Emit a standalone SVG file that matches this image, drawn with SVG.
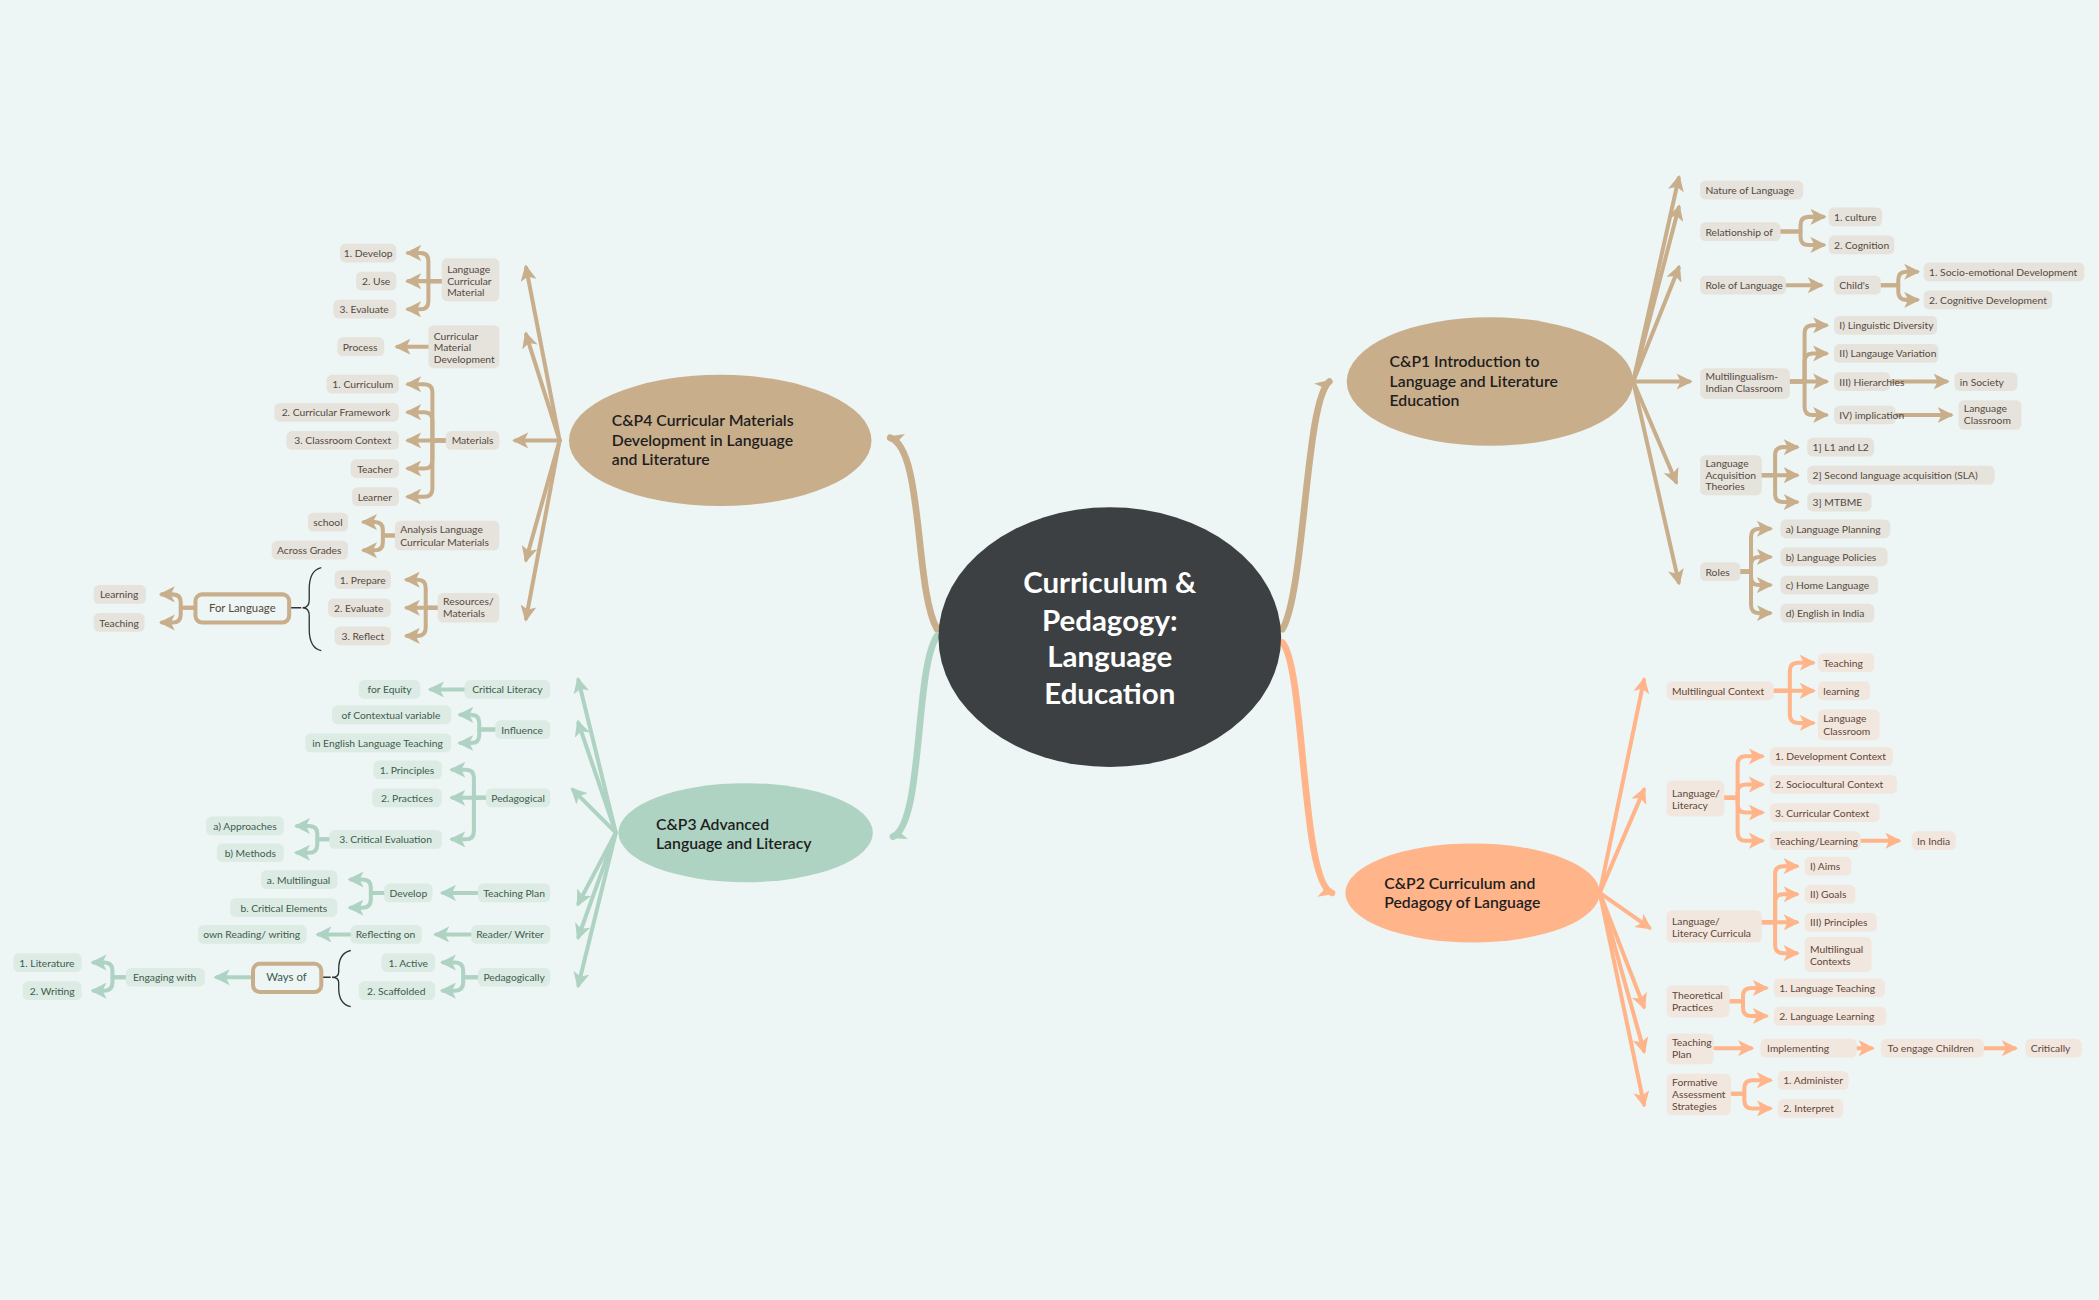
<svg xmlns="http://www.w3.org/2000/svg" width="2099" height="1300" viewBox="0 0 2099 1300">
<style>
.t{font-family:Lato,"Open Sans",sans-serif;font-size:7.7px;fill:#55493f}
.tg{font-family:Lato,"Open Sans",sans-serif;font-size:7.7px;fill:#3f5b4e}
.tp{font-family:Lato,"Open Sans",sans-serif;font-size:7.7px;fill:#5e4638}
.n{font-family:Lato,"Open Sans",sans-serif;font-size:11.8px;font-weight:600;fill:#1e1e1e}
.bt{fill:#e5e3dc}.bp{fill:#f2e7df}.bg{fill:#dcebe4}
.ct,.cp,.cg{fill:none;stroke-width:3;stroke-linecap:round;stroke-linejoin:round}
.ct{stroke:#c9ae8c}.cp{stroke:#ffb48a}.cg{stroke:#aed3c2}
.ct{marker-end:url(#mt)}.cp{marker-end:url(#mp)}.cg{marker-end:url(#mg)}
.br{fill:none;stroke:#333;stroke-width:1}
</style>
<defs>
<marker id="mt" viewBox="0 0 10 10" refX="8" refY="5" markerWidth="12" markerHeight="12" markerUnits="userSpaceOnUse" orient="auto"><path d="M0,0 L10,5 L0,10 L2.5,5 z" fill="#c9ae8c"/></marker>
<marker id="mp" viewBox="0 0 10 10" refX="8" refY="5" markerWidth="12" markerHeight="12" markerUnits="userSpaceOnUse" orient="auto"><path d="M0,0 L10,5 L0,10 L2.5,5 z" fill="#ffb48a"/></marker>
<marker id="mg" viewBox="0 0 10 10" refX="8" refY="5" markerWidth="12" markerHeight="12" markerUnits="userSpaceOnUse" orient="auto"><path d="M0,0 L10,5 L0,10 L2.5,5 z" fill="#aed3c2"/></marker>
</defs>
<rect width="2099" height="1300" fill="#edf5f5"/>
<g transform="scale(1.3387)">
<g id="connectors">
<path class="ct" style="stroke-width:5" d="M958,470 C975,440 975,300 993,285"/>
<path class="cp" style="stroke-width:5" d="M958,480 C975,500 972,660 995,667"/>
<path class="ct" style="stroke-width:5" d="M700,470 C683,440 690,335 665,327"/>
<path class="cg" style="stroke-width:5" d="M700,475 C683,500 690,615 667,625"/>
<path class="ct" d="M1220,285 L1254,133"/><path class="ct" d="M1220,285 L1254,155"/><path class="ct" d="M1220,285 L1254,200"/><path class="ct" d="M1220,285 L1262,285"/><path class="ct" d="M1220,285 L1252,360"/><path class="ct" d="M1220,285 L1254,435"/>
<path class="ct" d="M1330,173 H1345 V168 Q1345,162 1351,162 H1362"/><path class="ct" d="M1330,173 H1345 V177 Q1345,183 1351,183 H1362"/>
<path class="ct" d="M1334,213 H1360"/>
<path class="ct" d="M1405,213 H1418 V209 Q1418,203 1424,203 H1432"/><path class="ct" d="M1405,213 H1418 V218 Q1418,224 1424,224 H1432"/>
<path class="ct" d="M1337,285 H1348 V249 Q1348,243 1354,243 H1364"/><path class="ct" d="M1337,285 H1348 V270 Q1348,264 1354,264 H1364"/><path class="ct" d="M1337,285 H1364"/><path class="ct" d="M1337,285 H1348 V304 Q1348,310 1354,310 H1364"/>
<path class="ct" d="M1412,285 H1454"/><path class="ct" d="M1416,310 H1457"/>
<path class="ct" d="M1316,355 H1326 V340 Q1326,334 1332,334 H1342"/><path class="ct" d="M1316,355 H1342"/><path class="ct" d="M1316,355 H1326 V369 Q1326,375 1332,375 H1342"/>
<path class="ct" d="M1300,427 H1308 V401 Q1308,395 1314,395 H1322"/><path class="ct" d="M1300,427 H1308 V422 Q1308,416 1314,416 H1322"/><path class="ct" d="M1300,427 H1308 V431 Q1308,437 1314,437 H1322"/><path class="ct" d="M1300,427 H1308 V452 Q1308,458 1314,458 H1322"/>
<path class="cp" d="M1195,667 L1228,508"/><path class="cp" d="M1195,667 L1228,590"/><path class="cp" d="M1195,667 L1232,693"/><path class="cp" d="M1195,667 L1228,752"/><path class="cp" d="M1195,667 L1228,785"/><path class="cp" d="M1195,667 L1228,825"/>
<path class="cp" d="M1325,516 H1337 V501 Q1337,495 1343,495 H1354"/><path class="cp" d="M1325,516 H1354"/><path class="cp" d="M1325,516 H1337 V534 Q1337,540 1343,540 H1354"/>
<path class="cp" d="M1288,596 H1298 V571 Q1298,565 1304,565 H1316"/><path class="cp" d="M1288,596 H1298 V592 Q1298,586 1304,586 H1316"/><path class="cp" d="M1288,596 H1298 V601 Q1298,607 1304,607 H1316"/><path class="cp" d="M1288,596 H1298 V622 Q1298,628 1304,628 H1316"/>
<path class="cp" d="M1390,628 H1418"/>
<path class="cp" d="M1316,689 H1326 V653 Q1326,647 1332,647 H1342"/><path class="cp" d="M1316,689 H1326 V674 Q1326,668 1332,668 H1342"/><path class="cp" d="M1316,689 H1342"/><path class="cp" d="M1316,689 H1326 V706 Q1326,712 1332,712 H1342"/>
<path class="cp" d="M1292,748 H1302 V744 Q1302,738 1308,738 H1319"/><path class="cp" d="M1292,748 H1302 V753 Q1302,759 1308,759 H1319"/>
<path class="cp" d="M1281,783 H1308"/><path class="cp" d="M1387,783 H1398"/><path class="cp" d="M1482,783 H1505"/>
<path class="cp" d="M1293,817 H1303 V813 Q1303,807 1309,807 H1322"/><path class="cp" d="M1293,817 H1303 V822 Q1303,828 1309,828 H1322"/>
<path class="ct" d="M418,329 L393,200"/><path class="ct" d="M418,329 L393,250"/><path class="ct" d="M418,329 L385,329"/><path class="ct" d="M418,329 L393,418"/><path class="ct" d="M418,329 L393,462"/>
<path class="ct" d="M330,210 H320 V195 Q320,189 314,189 H305"/><path class="ct" d="M330,210 H305"/><path class="ct" d="M330,210 H320 V225 Q320,231 314,231 H305"/>
<path class="ct" d="M320,259 H297"/>
<path class="ct" d="M333,329 H323 V293 Q323,287 317,287 H305"/><path class="ct" d="M333,329 H323 V314 Q323,308 317,308 H305"/><path class="ct" d="M333,329 H305"/><path class="ct" d="M333,329 H323 V344 Q323,350 317,350 H305"/><path class="ct" d="M333,329 H323 V365 Q323,371 317,371 H305"/>
<path class="ct" d="M295,400 H286 V396 Q286,390 280,390 H272"/><path class="ct" d="M295,400 H286 V405 Q286,411 280,411 H272"/>
<path class="ct" d="M327,454 H318 V439 Q318,433 312,433 H304"/><path class="ct" d="M327,454 H304"/><path class="ct" d="M327,454 H318 V469 Q318,475 312,475 H304"/>
<path class="ct" d="M145,454 H135 V450 Q135,444 129,444 H121"/><path class="ct" d="M145,454 H135 V459 Q135,465 129,465 H121"/>
<path class="br" d="M240,424 Q231,426 231,440 V448 Q231,454 226,454 Q231,454 231,460 V470 Q231,484 240,486 M217,454 H225"/>
<path class="cg" d="M460,622 L432,508"/><path class="cg" d="M460,622 L432,540"/><path class="cg" d="M460,622 L428,590"/><path class="cg" d="M460,622 L432,675"/><path class="cg" d="M460,622 L432,700"/><path class="cg" d="M460,622 L432,736"/>
<path class="cg" d="M347,515 H322"/>
<path class="cg" d="M370,545 H358 V540 Q358,534 352,534 H344"/><path class="cg" d="M370,545 H358 V549 Q358,555 352,555 H344"/>
<path class="cg" d="M363,596 H354 V581 Q354,575 348,575 H338"/><path class="cg" d="M363,596 H338"/><path class="cg" d="M363,596 H354 V621 Q354,627 348,627 H338"/>
<path class="cg" d="M246,627 H237 V623 Q237,617 231,617 H222"/><path class="cg" d="M246,627 H237 V631 Q237,637 231,637 H222"/>
<path class="cg" d="M357,667 H331"/>
<path class="cg" d="M287,667 H277 V663 Q277,657 271,657 H262"/><path class="cg" d="M287,667 H277 V672 Q277,678 271,678 H262"/>
<path class="cg" d="M352,698 H326"/><path class="cg" d="M262,698 H238"/>
<path class="cg" d="M357,730 H346 V725 Q346,719 340,719 H331"/><path class="cg" d="M357,730 H346 V734 Q346,740 340,740 H331"/>
<path class="cg" d="M188,730 H162"/>
<path class="cg" d="M94,730 H84 V725 Q84,719 78,719 H70"/><path class="cg" d="M94,730 H84 V734 Q84,740 78,740 H70"/>
<path class="br" d="M262,710 Q253,712 253,724 V726 Q253,730 248,730 Q253,730 253,734 V738 Q253,750 262,752 M241,730 H247"/>
</g>
<g id="central"><ellipse cx="829" cy="476" rx="128" ry="97" fill="#3c4043"/>
<text x="829" y="443" text-anchor="middle" style="font-family:Lato,sans-serif;font-size:22px;font-weight:700;fill:#fff">Curriculum &amp;</text>
<text x="829" y="471" text-anchor="middle" style="font-family:Lato,sans-serif;font-size:22px;font-weight:700;fill:#fff">Pedagogy:</text>
<text x="829" y="498" text-anchor="middle" style="font-family:Lato,sans-serif;font-size:22px;font-weight:700;fill:#fff">Language</text>
<text x="829" y="526" text-anchor="middle" style="font-family:Lato,sans-serif;font-size:22px;font-weight:700;fill:#fff">Education</text></g>
<g id="cp1"><ellipse cx="1113" cy="285" rx="107" ry="48" fill="#c9ae8c"/>
<text class="n" x="1038" y="274">C&amp;P1 Introduction to</text><text class="n" x="1038" y="289">Language and Literature</text><text class="n" x="1038" y="303">Education</text></g>
<g id="cp2"><ellipse cx="1100" cy="667" rx="95" ry="37" fill="#ffb48a"/>
<text class="n" x="1034" y="664">C&amp;P2 Curriculum and</text><text class="n" x="1034" y="678">Pedagogy of Language</text></g>
<g id="cp4"><ellipse cx="538" cy="329" rx="113" ry="49" fill="#c9ae8c"/>
<text class="n" x="457" y="318">C&amp;P4 Curricular Materials</text><text class="n" x="457" y="333">Development in Language</text><text class="n" x="457" y="347">and Literature</text></g>
<g id="cp3"><ellipse cx="557" cy="622" rx="95" ry="37" fill="#aed3c2"/>
<text class="n" x="490" y="620">C&amp;P3  Advanced</text><text class="n" x="490" y="634">Language and Literacy</text></g>
<g id="n1a"><rect class="bt" x="1270" y="135" width="77" height="14" rx="4"/><text class="t" x="1274" y="145">Nature of Language</text></g>
<g id="n1b"><rect class="bt" x="1270" y="166" width="60" height="14" rx="4"/><text class="t" x="1274" y="176">Relationship of</text></g>
<g id="n1c"><rect class="bt" x="1366" y="155" width="40" height="14" rx="4"/><text class="t" x="1370" y="165">1. culture</text></g>
<g id="n1d"><rect class="bt" x="1366" y="176" width="49" height="14" rx="4"/><text class="t" x="1370" y="186">2. Cognition</text></g>
<g id="n1e"><rect class="bt" x="1270" y="206" width="64" height="14" rx="4"/><text class="t" x="1274" y="216">Role of Language</text></g>
<g id="n1f"><rect class="bt" x="1370" y="206" width="35" height="14" rx="4"/><text class="t" x="1374" y="216">Child's</text></g>
<g id="n1g"><rect class="bt" x="1437" y="196" width="120" height="14" rx="4"/><text class="t" x="1441" y="206">1. Socio-emotional Development</text></g>
<g id="n1h"><rect class="bt" x="1437" y="217" width="96" height="14" rx="4"/><text class="t" x="1441" y="227">2. Cognitive Development</text></g>
<g id="n1i"><rect class="bt" x="1270" y="275" width="67" height="23" rx="4"/><text class="t" x="1274" y="284">Multilingualism-</text><text class="t" x="1274" y="293">Indian Classroom</text></g>
<g id="n1j"><rect class="bt" x="1370" y="236" width="77" height="14" rx="4"/><text class="t" x="1374" y="246">I) Linguistic Diversity</text></g>
<g id="n1k"><rect class="bt" x="1370" y="257" width="78" height="14" rx="4"/><text class="t" x="1374" y="267">II) Langauge Variation</text></g>
<g id="n1l"><rect class="bt" x="1370" y="278" width="42" height="14" rx="4"/><text class="t" x="1374" y="288">III) Hierarchies</text></g>
<g id="n1m"><rect class="bt" x="1460" y="278" width="47" height="14" rx="4"/><text class="t" x="1464" y="288">in Society</text></g>
<g id="n1n"><rect class="bt" x="1370" y="303" width="46" height="14" rx="4"/><text class="t" x="1374" y="313">IV) implication</text></g>
<g id="n1o"><rect class="bt" x="1463" y="299" width="47" height="22" rx="4"/><text class="t" x="1467" y="308">Language</text><text class="t" x="1467" y="317">Classroom</text></g>
<g id="n1p"><rect class="bt" x="1270" y="340" width="46" height="30" rx="4"/><text class="t" x="1274" y="349">Language</text><text class="t" x="1274" y="358">Acquisition</text><text class="t" x="1274" y="366">Theories</text></g>
<g id="n1q"><rect class="bt" x="1350" y="327" width="50" height="14" rx="4"/><text class="t" x="1354" y="337">1] L1 and L2</text></g>
<g id="n1r"><rect class="bt" x="1350" y="348" width="140" height="14" rx="4"/><text class="t" x="1354" y="358">2] Second language acquisition (SLA)</text></g>
<g id="n1s"><rect class="bt" x="1350" y="368" width="48" height="14" rx="4"/><text class="t" x="1354" y="378">3] MTBME</text></g>
<g id="n1t"><rect class="bt" x="1270" y="420" width="30" height="14" rx="4"/><text class="t" x="1274" y="430">Roles</text></g>
<g id="n1u"><rect class="bt" x="1330" y="388" width="82" height="14" rx="4"/><text class="t" x="1334" y="398">a) Language Planning</text></g>
<g id="n1v"><rect class="bt" x="1330" y="409" width="80" height="14" rx="4"/><text class="t" x="1334" y="419">b) Language Policies</text></g>
<g id="n1w"><rect class="bt" x="1330" y="430" width="73" height="14" rx="4"/><text class="t" x="1334" y="440">c) Home Language</text></g>
<g id="n1x"><rect class="bt" x="1330" y="451" width="70" height="14" rx="4"/><text class="t" x="1334" y="461">d) English in India</text></g>
<g id="n2a"><rect class="bp" x="1245" y="509" width="80" height="14" rx="4"/><text class="tp" x="1249" y="519">Multilingual Context</text></g>
<g id="n2b"><rect class="bp" x="1358" y="488" width="42" height="14" rx="4"/><text class="tp" x="1362" y="498">Teaching</text></g>
<g id="n2c"><rect class="bp" x="1358" y="509" width="39" height="14" rx="4"/><text class="tp" x="1362" y="519">learning</text></g>
<g id="n2d"><rect class="bp" x="1358" y="530" width="46" height="23" rx="4"/><text class="tp" x="1362" y="539">Language</text><text class="tp" x="1362" y="549">Classroom</text></g>
<g id="n2e"><rect class="bp" x="1245" y="583" width="43" height="27" rx="4"/><text class="tp" x="1249" y="595">Language/</text><text class="tp" x="1249" y="604">Literacy</text></g>
<g id="n2f"><rect class="bp" x="1322" y="558" width="92" height="14" rx="4"/><text class="tp" x="1326" y="568">1. Development Context</text></g>
<g id="n2g"><rect class="bp" x="1322" y="579" width="95" height="14" rx="4"/><text class="tp" x="1326" y="589">2. Sociocultural Context</text></g>
<g id="n2h"><rect class="bp" x="1322" y="600" width="82" height="14" rx="4"/><text class="tp" x="1326" y="610">3. Curricular Context</text></g>
<g id="n2i"><rect class="bp" x="1322" y="621" width="68" height="14" rx="4"/><text class="tp" x="1326" y="631">Teaching/Learning</text></g>
<g id="n2j"><rect class="bp" x="1428" y="621" width="33" height="14" rx="4"/><text class="tp" x="1432" y="631">In India</text></g>
<g id="n2k"><rect class="bp" x="1245" y="680" width="71" height="24" rx="4"/><text class="tp" x="1249" y="691">Language/</text><text class="tp" x="1249" y="700">Literacy Curricula</text></g>
<g id="n2l"><rect class="bp" x="1348" y="640" width="35" height="14" rx="4"/><text class="tp" x="1352" y="650">I) Aims</text></g>
<g id="n2m"><rect class="bp" x="1348" y="661" width="38" height="14" rx="4"/><text class="tp" x="1352" y="671">II) Goals</text></g>
<g id="n2n"><rect class="bp" x="1348" y="682" width="54" height="14" rx="4"/><text class="tp" x="1352" y="692">III) Principles</text></g>
<g id="n2o"><rect class="bp" x="1348" y="700" width="50" height="26" rx="4"/><text class="tp" x="1352" y="712">Multilingual</text><text class="tp" x="1352" y="721">Contexts</text></g>
<g id="n2p"><rect class="bp" x="1245" y="736" width="47" height="24" rx="4"/><text class="tp" x="1249" y="746">Theoretical</text><text class="tp" x="1249" y="755">Practices</text></g>
<g id="n2q"><rect class="bp" x="1325" y="731" width="83" height="14" rx="4"/><text class="tp" x="1329" y="741">1. Language Teaching</text></g>
<g id="n2r"><rect class="bp" x="1325" y="752" width="84" height="14" rx="4"/><text class="tp" x="1329" y="762">2. Language Learning</text></g>
<g id="n2s"><rect class="bp" x="1245" y="772" width="35" height="23" rx="4"/><text class="tp" x="1249" y="781">Teaching</text><text class="tp" x="1249" y="790">Plan</text></g>
<g id="n2t"><rect class="bp" x="1315" y="776" width="72" height="14" rx="4"/><text class="tp" x="1320" y="786">Implementing</text></g>
<g id="n2u"><rect class="bp" x="1405" y="776" width="77" height="14" rx="4"/><text class="tp" x="1410" y="786">To engage Children</text></g>
<g id="n2v"><rect class="bp" x="1513" y="776" width="42" height="14" rx="4"/><text class="tp" x="1517" y="786">Critically</text></g>
<g id="n2w"><rect class="bp" x="1245" y="802" width="48" height="31" rx="4"/><text class="tp" x="1249" y="811">Formative</text><text class="tp" x="1249" y="820">Assessment</text><text class="tp" x="1249" y="829">Strategies</text></g>
<g id="n2x"><rect class="bp" x="1328" y="800" width="53" height="14" rx="4"/><text class="tp" x="1332" y="810">1. Administer</text></g>
<g id="n2y"><rect class="bp" x="1328" y="821" width="49" height="14" rx="4"/><text class="tp" x="1332" y="831">2. Interpret</text></g>
<g id="n4a"><rect class="bt" x="330" y="193" width="43" height="32" rx="4"/><text class="t" x="334" y="204">Language</text><text class="t" x="334" y="213">Curricular</text><text class="t" x="334" y="221">Material</text></g>
<g id="n4b"><rect class="bt" x="254" y="182" width="42" height="14" rx="4"/><text class="t" x="275" y="192" text-anchor="middle">1. Develop</text></g>
<g id="n4c"><rect class="bt" x="266" y="203" width="30" height="14" rx="4"/><text class="t" x="281" y="213" text-anchor="middle">2. Use</text></g>
<g id="n4d"><rect class="bt" x="249" y="224" width="47" height="14" rx="4"/><text class="t" x="272" y="234" text-anchor="middle">3. Evaluate</text></g>
<g id="n4e"><rect class="bt" x="320" y="243" width="53" height="32" rx="4"/><text class="t" x="324" y="254">Curricular</text><text class="t" x="324" y="262">Material</text><text class="t" x="324" y="271">Development</text></g>
<g id="n4f"><rect class="bt" x="252" y="252" width="35" height="14" rx="4"/><text class="t" x="269" y="262" text-anchor="middle">Process</text></g>
<g id="n4g"><rect class="bt" x="333" y="322" width="40" height="14" rx="4"/><text class="t" x="353" y="332" text-anchor="middle">Materials</text></g>
<g id="n4h"><rect class="bt" x="244" y="280" width="54" height="14" rx="4"/><text class="t" x="271" y="290" text-anchor="middle">1. Curriculum</text></g>
<g id="n4i"><rect class="bt" x="205" y="301" width="93" height="14" rx="4"/><text class="t" x="251" y="311" text-anchor="middle">2. Curricular Framework</text></g>
<g id="n4j"><rect class="bt" x="214" y="322" width="84" height="14" rx="4"/><text class="t" x="256" y="332" text-anchor="middle">3. Classroom Context</text></g>
<g id="n4k"><rect class="bt" x="262" y="343" width="36" height="14" rx="4"/><text class="t" x="280" y="353" text-anchor="middle">Teacher</text></g>
<g id="n4l"><rect class="bt" x="263" y="364" width="35" height="14" rx="4"/><text class="t" x="280" y="374" text-anchor="middle">Learner</text></g>
<g id="n4m"><rect class="bt" x="295" y="389" width="78" height="22" rx="4"/><text class="t" x="299" y="398">Analysis Language</text><text class="t" x="299" y="408">Curricular Materials</text></g>
<g id="n4n"><rect class="bt" x="230" y="383" width="30" height="14" rx="4"/><text class="t" x="245" y="393" text-anchor="middle">school</text></g>
<g id="n4o"><rect class="bt" x="203" y="404" width="57" height="14" rx="4"/><text class="t" x="231" y="414" text-anchor="middle">Across Grades</text></g>
<g id="n4p"><rect class="bt" x="327" y="443" width="46" height="22" rx="4"/><text class="t" x="331" y="452">Resources/</text><text class="t" x="331" y="461">Materials</text></g>
<g id="n4q"><rect class="bt" x="250" y="426" width="42" height="14" rx="4"/><text class="t" x="271" y="436" text-anchor="middle">1. Prepare</text></g>
<g id="n4r"><rect class="bt" x="245" y="447" width="47" height="14" rx="4"/><text class="t" x="268" y="457" text-anchor="middle">2. Evaluate</text></g>
<g id="n4s"><rect class="bt" x="250" y="468" width="42" height="14" rx="4"/><text class="t" x="271" y="478" text-anchor="middle">3. Reflect</text></g>
<g id="n4t"><rect x="146" y="444" width="70" height="21" rx="5" fill="#edf5f5" stroke="#c9ae8c" stroke-width="3"/><text class="t" x="181" y="457" text-anchor="middle" style="font-size:8.5px">For Language</text></g>
<g id="n4u"><rect class="bt" x="70" y="437" width="39" height="14" rx="4"/><text class="t" x="89" y="447" text-anchor="middle">Learning</text></g>
<g id="n4v"><rect class="bt" x="70" y="458" width="38" height="14" rx="4"/><text class="t" x="89" y="468" text-anchor="middle">Teaching</text></g>
<g id="n3a"><rect class="bg" x="347" y="508" width="64" height="14" rx="4"/><text class="tg" x="379" y="518" text-anchor="middle">Critical Literacy</text></g>
<g id="n3b"><rect class="bg" x="268" y="508" width="46" height="14" rx="4"/><text class="tg" x="291" y="518" text-anchor="middle">for Equity</text></g>
<g id="n3c"><rect class="bg" x="370" y="538" width="41" height="14" rx="4"/><text class="tg" x="390" y="548" text-anchor="middle">Influence</text></g>
<g id="n3d"><rect class="bg" x="248" y="527" width="89" height="14" rx="4"/><text class="tg" x="292" y="537" text-anchor="middle">of Contextual variable</text></g>
<g id="n3e"><rect class="bg" x="228" y="548" width="109" height="14" rx="4"/><text class="tg" x="282" y="558" text-anchor="middle">in English Language Teaching</text></g>
<g id="n3f"><rect class="bg" x="363" y="589" width="48" height="14" rx="4"/><text class="tg" x="387" y="599" text-anchor="middle">Pedagogical</text></g>
<g id="n3g"><rect class="bg" x="279" y="568" width="51" height="14" rx="4"/><text class="tg" x="304" y="578" text-anchor="middle">1. Principles</text></g>
<g id="n3h"><rect class="bg" x="278" y="589" width="52" height="14" rx="4"/><text class="tg" x="304" y="599" text-anchor="middle">2. Practices</text></g>
<g id="n3i"><rect class="bg" x="246" y="620" width="84" height="14" rx="4"/><text class="tg" x="288" y="630" text-anchor="middle">3. Critical Evaluation</text></g>
<g id="n3j"><rect class="bg" x="154" y="610" width="58" height="14" rx="4"/><text class="tg" x="183" y="620" text-anchor="middle">a) Approaches</text></g>
<g id="n3k"><rect class="bg" x="162" y="630" width="50" height="14" rx="4"/><text class="tg" x="187" y="640" text-anchor="middle">b) Methods</text></g>
<g id="n3l"><rect class="bg" x="357" y="660" width="54" height="14" rx="4"/><text class="tg" x="384" y="670" text-anchor="middle">Teaching Plan</text></g>
<g id="n3m"><rect class="bg" x="287" y="660" width="36" height="14" rx="4"/><text class="tg" x="305" y="670" text-anchor="middle">Develop</text></g>
<g id="n3n"><rect class="bg" x="195" y="650" width="57" height="14" rx="4"/><text class="tg" x="223" y="660" text-anchor="middle">a. Multilingual</text></g>
<g id="n3o"><rect class="bg" x="172" y="671" width="80" height="14" rx="4"/><text class="tg" x="212" y="681" text-anchor="middle">b. Critical Elements</text></g>
<g id="n3p"><rect class="bg" x="352" y="691" width="59" height="14" rx="4"/><text class="tg" x="381" y="701" text-anchor="middle">Reader/ Writer</text></g>
<g id="n3q"><rect class="bg" x="262" y="691" width="53" height="14" rx="4"/><text class="tg" x="288" y="701" text-anchor="middle">Reflecting on</text></g>
<g id="n3r"><rect class="bg" x="148" y="691" width="81" height="14" rx="4"/><text class="tg" x="188" y="701" text-anchor="middle">own Reading/ writing</text></g>
<g id="n3s"><rect class="bg" x="357" y="723" width="54" height="14" rx="4"/><text class="tg" x="384" y="733" text-anchor="middle">Pedagogically</text></g>
<g id="n3t"><rect class="bg" x="285" y="712" width="40" height="14" rx="4"/><text class="tg" x="305" y="722" text-anchor="middle">1. Active</text></g>
<g id="n3u"><rect class="bg" x="268" y="733" width="57" height="14" rx="4"/><text class="tg" x="296" y="743" text-anchor="middle">2. Scaffolded</text></g>
<g id="n3v"><rect x="189" y="720" width="51" height="21" rx="5" fill="#edf5f5" stroke="#c9ae8c" stroke-width="3"/><text class="tg" x="214" y="733" text-anchor="middle" style="font-size:8.5px">Ways of</text></g>
<g id="n3w"><rect class="bg" x="94" y="723" width="59" height="14" rx="4"/><text class="tg" x="123" y="733" text-anchor="middle">Engaging with</text></g>
<g id="n3x"><rect class="bg" x="10" y="712" width="51" height="14" rx="4"/><text class="tg" x="35" y="722" text-anchor="middle">1. Literature</text></g>
<g id="n3y"><rect class="bg" x="17" y="733" width="44" height="14" rx="4"/><text class="tg" x="39" y="743" text-anchor="middle">2. Writing</text></g>
</g>
</svg>
